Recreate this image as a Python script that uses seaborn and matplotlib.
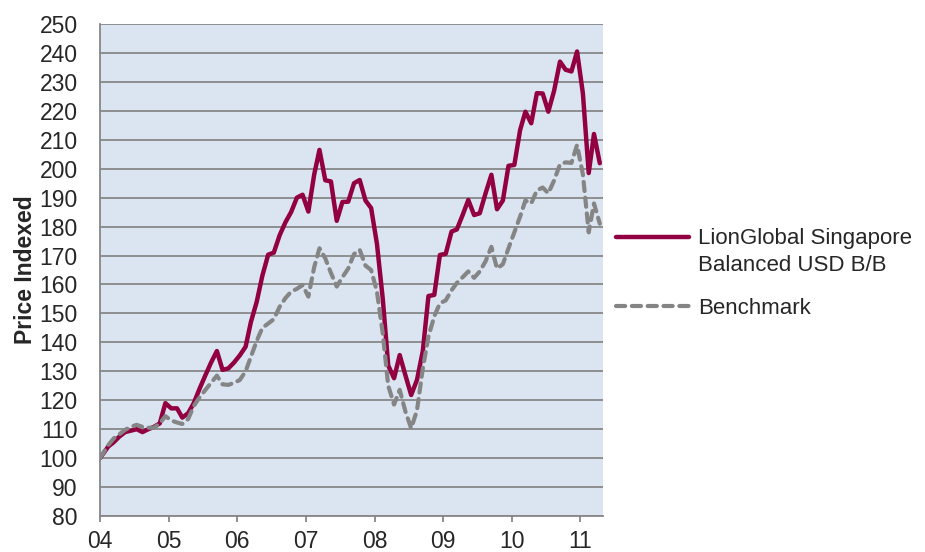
import numpy as np
import pandas as pd
import matplotlib
matplotlib.use("Agg")
import matplotlib.pyplot as plt
import matplotlib.dates as mdates
import seaborn as sns

# launch point, then monthly observations
first_date = "2004-01-01"
monthly_start = "2004-02-14"

fund_values = [
    100.0, 104.0, 105.5, 107.5, 109.0, 109.5, 110.0, 109.0, 110.0, 110.8,
    112.0, 119.0, 117.2, 117.2, 114.0, 115.5, 119.0, 124.0, 128.5, 133.0,
    137.0, 130.5, 131.0, 133.0, 135.5, 138.5, 147.0, 154.0, 163.0, 170.3,
    171.0, 177.0, 181.5, 185.0, 190.0, 191.0, 185.2, 198.0, 206.5, 196.0,
    195.6, 182.0, 188.5, 188.6, 195.0, 196.1, 189.0, 186.4, 174.0, 155.0,
    132.0, 127.6, 135.6, 128.5, 121.8, 127.0, 137.0, 156.0, 156.4, 170.2,
    170.6, 178.3, 179.0, 184.0, 189.2, 184.0, 184.6, 191.5, 197.9, 186.0,
    189.0, 201.0, 201.3, 213.4, 219.7, 215.7, 226.1, 226.0, 219.7, 227.0,
    237.0, 234.2, 233.6, 240.5, 226.0, 198.5, 212.0, 201.9,
]

bench_values = [
    100.0, 104.5, 106.8, 108.3, 109.8, 110.8, 111.5, 110.8, 110.5, 110.5,
    112.0, 114.5, 113.0, 112.3, 111.8, 113.5, 118.0, 121.0, 123.5, 126.0,
    128.5, 125.5, 125.3, 126.0, 127.0, 130.0, 135.0, 140.5, 145.0, 146.5,
    148.0, 152.3, 155.3, 157.5, 158.5, 159.8, 155.8, 166.0, 172.5, 169.0,
    164.0, 159.3, 162.5, 165.5, 170.5, 172.0, 166.5, 165.0, 157.5, 143.0,
    125.0, 118.5, 123.6, 116.0, 110.3, 116.5, 131.0, 142.0, 149.0, 153.5,
    154.5, 158.0, 160.5, 162.5, 164.5, 162.3, 164.5, 168.0, 173.0, 165.5,
    167.0, 172.5, 178.0, 183.5, 189.0, 188.0, 192.5, 193.5, 191.5, 196.0,
    201.5, 202.2, 202.0, 208.2, 198.0, 178.0, 188.0, 181.0,
]

fund_label = "LionGlobal Singapore\nBalanced USD B/B"
bench_label = "Benchmark"

dates = pd.DatetimeIndex([first_date]).append(
    pd.date_range(monthly_start, periods=len(fund_values) - 1,
                  freq=pd.DateOffset(months=1)))
df = pd.DataFrame({"date": dates, "fund": fund_values, "bench": bench_values})

sns.set_style("white")
plt.rcParams["font.family"] = ["Liberation Sans", "DejaVu Sans"]

fig = plt.figure(figsize=(9.25, 5.52), dpi=100)
ax = fig.add_axes([100 / 925, 1 - 516 / 552, 503 / 925, 492 / 552])
ax.set_facecolor("#dbe5f1")

sns.lineplot(data=df, x="date", y="fund", ax=ax, color="#920041",
             linewidth=3.2, label=fund_label, zorder=3)
sns.lineplot(data=df, x="date", y="bench", ax=ax, color="#858585",
             linewidth=3.0, label=bench_label, zorder=4,
             dashes=(2.2, 1.6))
for ln in ax.get_lines():
    ln.set_solid_capstyle("round")
    ln.set_dash_capstyle("round")

ax.set_ylim(80, 250)
ax.set_yticks(np.arange(80, 251, 10))
ax.set_xlim(pd.Timestamp("2004-01-01"), pd.Timestamp("2011-05-01"))
ax.xaxis.set_major_locator(mdates.YearLocator())
ax.xaxis.set_major_formatter(mdates.DateFormatter("%y"))

ax.grid(axis="y", color="#878787", linewidth=1.3)
ax.set_axisbelow(True)
for side in ["top", "right"]:
    ax.spines[side].set_visible(False)
for side in ["left", "bottom"]:
    ax.spines[side].set_color("#878787")
    ax.spines[side].set_linewidth(1.3)

ax.tick_params(axis="y", length=0, pad=16, labelsize=16.5)
ax.tick_params(axis="x", direction="out", length=4, width=1.3,
               color="#878787", pad=6, labelsize=16.5, bottom=True)

ax.set_xlabel("")
ax.set_ylabel("Price Indexed", fontsize=16.5, fontweight="bold")
ax.yaxis.set_label_coords(-0.126, 0.5)

leg = ax.legend(loc="center left", bbox_to_anchor=(616 / 925, 1 - 273.5 / 552),
                bbox_transform=fig.transFigure, frameon=False, fontsize=16,
                handlelength=3.3, handletextpad=0.4, labelspacing=1.0,
                borderpad=0, borderaxespad=0)
leg.get_texts()[0].set_linespacing(1.36)
# put the fund swatch level with the first line of its two-line label
fund_handle = leg.get_lines()[0]
fund_handle.set_ydata(np.asarray(fund_handle.get_ydata()) + 11)

fig.savefig("out.png", dpi=100)
